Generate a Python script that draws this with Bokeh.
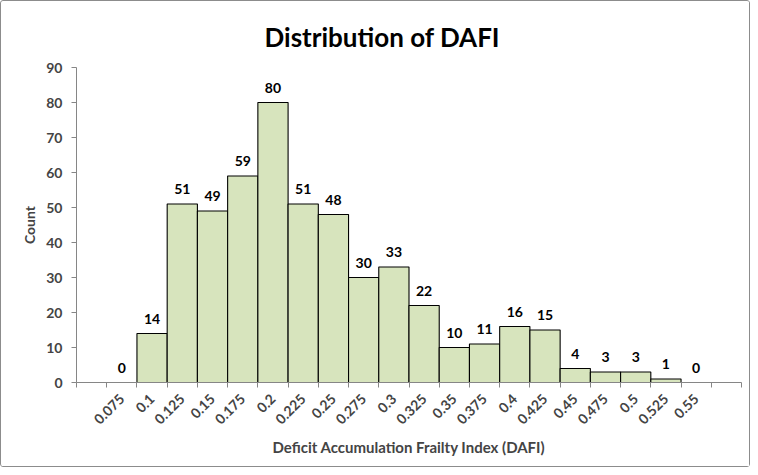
import numpy as np
from bokeh.plotting import figure
from bokeh.models import Range1d, FixedTicker, ColumnDataSource, LabelSet
from bokeh.core.properties import value
from bokeh.embed import file_html
from bokeh.resources import INLINE

# ---- data ----
title_text = "Distribution of DAFI"
bin_labels = ["0.075", "0.1", "0.125", "0.15", "0.175", "0.2", "0.225", "0.25",
              "0.275", "0.3", "0.325", "0.35", "0.375", "0.4", "0.425", "0.45",
              "0.475", "0.5", "0.525", "0.55"]
counts = [0, 14, 51, 49, 59, 80, 51, 48, 30, 33, 22, 10, 11, 16, 15, 4, 3, 3, 1, 0]
y_ticks = [0, 10, 20, 30, 40, 50, 60, 70, 80, 90]

# one empty slot on each side of the labelled bins
n_slots = len(bin_labels) + 2
centers = [i + 1.5 for i in range(len(bin_labels))]
bounds = list(range(n_slots + 1))

FONT = "Lato"
AXIS_GRAY = "#868686"

src = ColumnDataSource(dict(
    x=centers,
    top=counts,
    lbl=[str(c) for c in counts],
    lc=["black" if c > 0 else None for c in counts],
))

p = figure(width=750, height=467, output_backend="svg", toolbar_location=None,
           x_range=Range1d(0, n_slots), y_range=Range1d(0, 90),
           min_border_left=75, min_border_right=10, min_border_top=66,
           min_border_bottom=86)
p.styles = {"border": "1px solid #8c8c8c", "border-radius": "3px", "box-sizing": "border-box"}

p.vbar(x="x", top="top", width=1, source=src, fill_color="#d7e4bd",
       line_color="lc", line_width=1.1)

labels = LabelSet(x="x", y="top", text="lbl", source=src, y_offset=10,
                  text_align="center", text_baseline="alphabetic",
                  text_font=value(FONT), text_font_style="bold",
                  text_font_size="14px", text_color="black")
p.add_layout(labels)

p.title.text = title_text
p.title.align = "left"
p.title.text_font = FONT
p.title.text_font_size = "26px"
p.title.text_font_style = "bold"
p.title.text_color = "black"
p.title.standoff = 30
p.title.offset = 188

p.xgrid.visible = False
p.ygrid.visible = False
p.outline_line_color = None

xa = p.xaxis[0]
xa.ticker = FixedTicker(ticks=centers, minor_ticks=bounds)
xa.major_label_overrides = {c: l for c, l in zip(centers, bin_labels)}
xa.major_label_orientation = np.pi / 4
xa.major_tick_line_color = None
xa.minor_tick_line_color = AXIS_GRAY
xa.minor_tick_in = 0
xa.minor_tick_out = 5
xa.axis_line_color = AXIS_GRAY
xa.major_label_text_font = FONT
xa.major_label_text_font_style = "bold"
xa.major_label_text_font_size = "14px"
xa.major_label_standoff = 8
xa.axis_label = "Deficit Accumulation Frailty Index (DAFI)"
xa.axis_label_text_font = FONT
xa.axis_label_text_font_style = "bold"
xa.axis_label_text_font_size = "15px"
xa.axis_label_standoff = 6

ya = p.yaxis[0]
ya.ticker = FixedTicker(ticks=y_ticks)
ya.minor_tick_line_color = None
ya.major_tick_in = 0
ya.major_tick_out = 5
ya.major_tick_line_color = AXIS_GRAY
ya.axis_line_color = AXIS_GRAY
ya.major_label_text_font = FONT
ya.major_label_text_font_style = "bold"
ya.major_label_text_font_size = "14px"
ya.major_label_standoff = 9
ya.axis_label = "Count"
ya.axis_label_text_font = FONT
ya.axis_label_text_font_style = "bold"
ya.axis_label_text_font_size = "14px"
ya.axis_label_standoff = 5

open("out.html", "w").write(file_html(p, INLINE))
